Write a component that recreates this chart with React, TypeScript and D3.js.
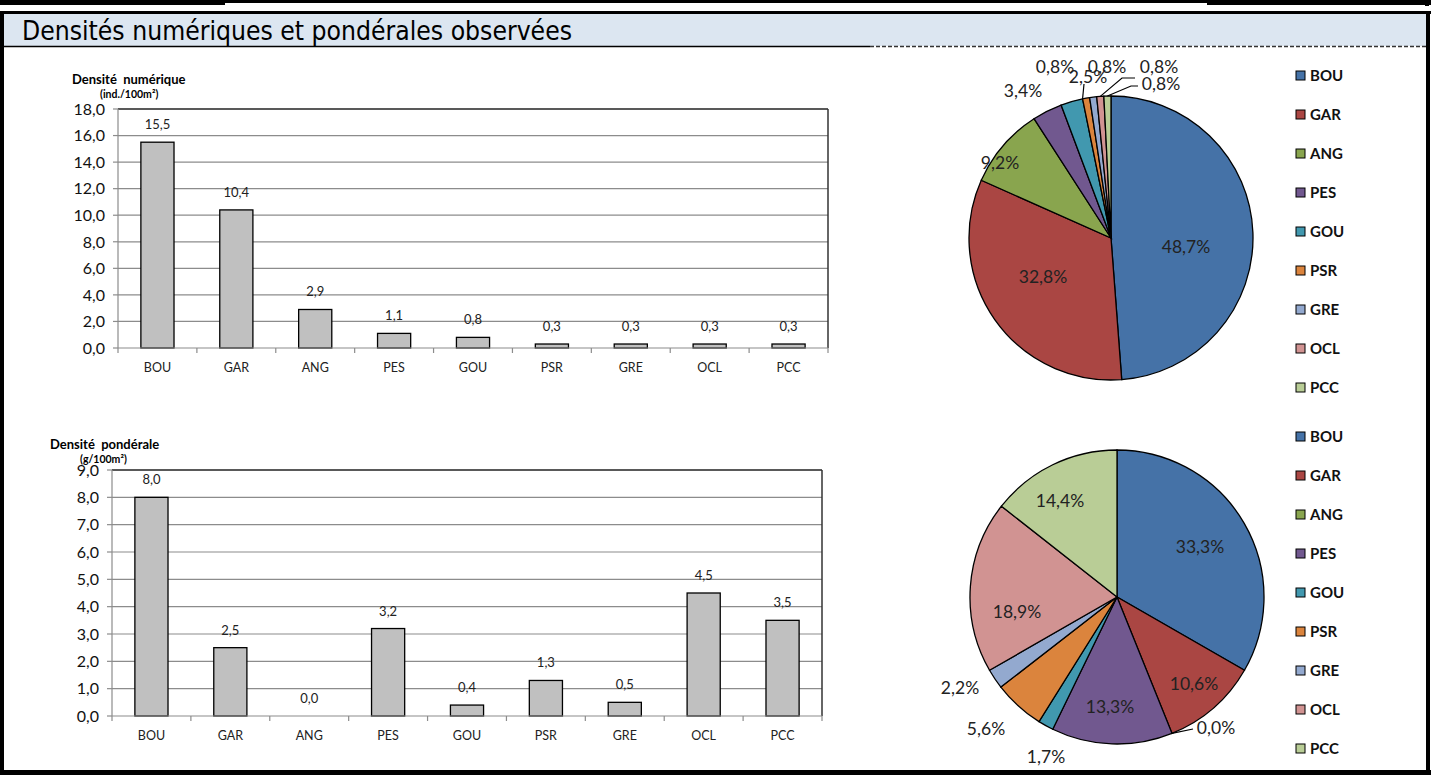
import React from 'react';
import * as d3 from 'd3';

// species codes
const categories = ['BOU', 'GAR', 'ANG', 'PES', 'GOU', 'PSR', 'GRE', 'OCL', 'PCC'];

// densité numérique (ind./100m²)
const densiteNum = [15.5, 10.4, 2.9, 1.1, 0.8, 0.3, 0.3, 0.3, 0.3];
// densité pondérale (g/100m²)
const densitePond = [8.0, 2.5, 0.0, 3.2, 0.4, 1.3, 0.5, 4.5, 3.5];

// percentages as printed on the pies
const pctNum = [48.7, 32.8, 9.2, 3.4, 2.5, 0.8, 0.8, 0.8, 0.8];
const pctPond = [33.3, 10.6, 0.0, 13.3, 1.7, 5.6, 2.2, 18.9, 14.4];

const yTicksNum = [0, 2, 4, 6, 8, 10, 12, 14, 16, 18];
const yTicksPond = [0, 1, 2, 3, 4, 5, 6, 7, 8, 9];

const sliceColors = ['#4572A7', '#AA4643', '#89A54E', '#71588F', '#4198AF', '#DB843D', '#93A9CF', '#D19392', '#B9CD96'];

const FONT = "Lato, 'Open Sans', sans-serif";
const fr = (v: number) => v.toFixed(1).replace('.', ',');

interface BarProps {
  values: number[];
  ticks: number[];
  x0: number;
  x1: number;
  yTop: number;
  yBot: number;
  title: string;
  unit: string;
  titleX: number;
  titleY: number;
  unitX: number;
}

const BarChart: React.FC<BarProps> = ({ values, ticks, x0, x1, yTop, yBot, title, unit, titleX, titleY, unitX }) => {
  const x = d3.scaleBand<string>().domain(categories).range([x0, x1]).paddingInner(0.58).paddingOuter(0.29);
  const y = d3.scaleLinear().domain([0, d3.max(ticks) as number]).range([yBot, yTop]);
  const step = (x1 - x0) / categories.length;
  const bounds = d3.range(categories.length + 1).map((i) => x0 + i * step);

  return (
    <g>
      <text x={titleX} y={titleY} fontFamily={FONT} fontWeight={700} fontSize={13} fill="#000">
        {title.split(' ')[0]}{'\u00a0 '}{title.split(' ')[1]}
      </text>
      <text x={unitX} y={titleY + 14} fontFamily={FONT} fontWeight={700} fontSize={10.5} fill="#000">
        {unit}
      </text>
      {/* grid lines */}
      {ticks.slice(1, -1).map((t) => (
        <line key={t} x1={x0} x2={x1} y1={y(t)} y2={y(t)} stroke="#8c8c8c" strokeWidth={1.2} />
      ))}
      {/* plot area border (top / right) */}
      <line x1={x0} x2={x1} y1={yTop} y2={yTop} stroke="#222" strokeWidth={1.5} />
      <line x1={x1} x2={x1} y1={yTop} y2={yBot} stroke="#333" strokeWidth={1.5} />
      {/* y axis */}
      <line x1={x0} x2={x0} y1={yTop} y2={yBot} stroke="#8c8c8c" strokeWidth={1.2} />
      {ticks.map((t) => (
        <g key={t}>
          <line x1={x0 - 5} x2={x0} y1={y(t)} y2={y(t)} stroke="#8c8c8c" strokeWidth={1.2} />
          <text x={x0 - 13} y={y(t)} dy="0.36em" textAnchor="end" fontFamily={FONT} fontSize={16} fill="#111">
            {fr(t)}
          </text>
        </g>
      ))}
      {/* bars */}
      {values.map((v, i) => (
        <g key={categories[i]}>
          {v > 0 && (
            <rect
              x={x(categories[i])}
              y={y(v)}
              width={x.bandwidth()}
              height={yBot - y(v)}
              fill="#C0C0C0"
              stroke="#000"
              strokeWidth={1.3}
            />
          )}
          <text
            x={(x(categories[i]) as number) + x.bandwidth() / 2}
            y={y(v) - 13}
            textAnchor="middle"
            fontFamily={FONT}
            fontSize={13}
            fill="#222"
          >
            {fr(v)}
          </text>
          <text
            x={(x(categories[i]) as number) + x.bandwidth() / 2}
            y={yBot + 24}
            textAnchor="middle"
            fontFamily={FONT}
            fontSize={12.5}
            fill="#222"
          >
            {categories[i]}
          </text>
        </g>
      ))}
      {/* x axis */}
      <line x1={x0} x2={x1} y1={yBot} y2={yBot} stroke="#8c8c8c" strokeWidth={1.2} />
      {bounds.map((b) => (
        <line key={b} x1={b} x2={b} y1={yBot} y2={yBot + 5} stroke="#8c8c8c" strokeWidth={1.2} />
      ))}
    </g>
  );
};

interface PieProps {
  values: number[];
  cx: number;
  cy: number;
  r: number;
  labelOffsets: [number, number][];
  leaders: { idx: number; at: 'mid' | 'end'; path: [number, number][] }[];
  legendY: number;
}

const PieChart: React.FC<PieProps> = ({ values, cx, cy, r, labelOffsets, leaders, legendY }) => {
  const pie = d3.pie<number>().sort(null).value((d) => d);
  const arcs = pie(values);
  const arc = d3.arc<d3.PieArcDatum<number>>().innerRadius(0).outerRadius(r);

  return (
    <g>
      <g transform={`translate(${cx},${cy})`}>
        {arcs.map((a, i) =>
          a.endAngle - a.startAngle > 0 ? (
            <path key={i} d={arc(a) as string} fill={sliceColors[i]} stroke="#000" strokeWidth={1.3} />
          ) : null
        )}
        {leaders.map((l, k) => {
          const a = arcs[l.idx];
          const ang = l.at === 'mid' ? (a.startAngle + a.endAngle) / 2 : a.endAngle;
          const p0 = d3.pointRadial(ang, r);
          const pts = [p0, ...l.path];
          return (
            <path
              key={k}
              d={d3.line()(pts as [number, number][]) as string}
              fill="none"
              stroke="#000"
              strokeWidth={1.2}
            />
          );
        })}
        {arcs.map((a, i) => (
          <text
            key={i}
            x={labelOffsets[i][0]}
            y={labelOffsets[i][1]}
            dy="0.35em"
            textAnchor="middle"
            fontFamily={FONT}
            fontSize={17.5}
            fill="#222"
          >
            {fr(values[i])}%
          </text>
        ))}
      </g>
      {/* legend */}
      {categories.map((c, i) => (
        <g key={c} transform={`translate(1296,${legendY + i * 39})`}>
          <rect x={0} y={-5} width={9} height={9} fill={sliceColors[i]} stroke="#000" strokeWidth={1} />
          <text x={14} y={0} dy="0.36em" fontFamily={FONT} fontWeight={700} fontSize={15} fill="#111">
            {c}
          </text>
        </g>
      ))}
    </g>
  );
};

export default function App() {
  return (
    <svg
      width={1431}
      height={776}
      style={{ position: 'absolute', left: 0, top: 0, background: '#fff' }}
    >
      {/* frame */}
      <rect x={0} y={0} width={1431} height={3} fill="#000" />
      <rect x={0} y={0} width={225} height={5} fill="#000" />
      <rect x={1207} y={0} width={224} height={5} fill="#000" />
      <rect x={1425} y={0} width={4} height={6} fill="#000" />
      <rect x={4} y={14} width={1422} height={32} fill="#DCE6F1" />
      <rect x={0} y={11} width={1431} height={3} fill="#000" />
      <rect x={0} y={11} width={4} height={764} fill="#000" />
      <rect x={1426} y={11} width={4} height={764} fill="#000" />
      <rect x={0} y={770} width={1431} height={5} fill="#000" />
      <line x1={4} x2={870} y1={46.5} y2={46.5} stroke="#000" strokeWidth={1.5} />
      <line x1={870} x2={1426} y1={46.5} y2={46.5} stroke="#333" strokeWidth={1.5} strokeDasharray="4,2" />
      <text
        x={22}
        y={40}
        fontFamily="'DejaVu Sans Condensed', 'Liberation Sans Narrow', Roboto, sans-serif"
        fontStretch="condensed"
        fontSize={27}
        textLength={550}
        lengthAdjust="spacingAndGlyphs"
        fill="#000"
      >
        Densités numériques et pondérales observées
      </text>

      <BarChart
        values={densiteNum}
        ticks={yTicksNum}
        x0={118}
        x1={828}
        yTop={109}
        yBot={348}
        title="Densité numérique"
        unit="(ind./100m²)"
        titleX={72}
        titleY={84}
        unitX={100}
      />
      <BarChart
        values={densitePond}
        ticks={yTicksPond}
        x0={112}
        x1={822}
        yTop={470}
        yBot={716}
        title="Densité pondérale"
        unit="(g/100m²)"
        titleX={50}
        titleY={449}
        unitX={80}
      />

      <PieChart
        values={pctNum}
        cx={1111}
        cy={238}
        r={142}
        labelOffsets={[
          [75, 9],
          [-68, 39],
          [-111, -75],
          [-88, -147],
          [-23, -161],
          [-56, -171],
          [-4, -171],
          [48, -171],
          [50, -154],
        ]}
        leaders={[
          { idx: 4, at: 'end', path: [[-27, -154]] },
          { idx: 7, at: 'mid', path: [[11, -160], [24, -160]] },
          { idx: 8, at: 'mid', path: [[20, -152], [27, -152]] },
        ]}
        legendY={76}
      />
      <PieChart
        values={pctPond}
        cx={1117}
        cy={597}
        r={147}
        labelOffsets={[
          [83, -50],
          [77, 87],
          [99, 131],
          [-7, 110],
          [-71, 160],
          [-131, 132],
          [-157, 91],
          [-100, 15],
          [-57, -96],
        ]}
        leaders={[{ idx: 2, at: 'mid', path: [[76, 132]] }]}
        legendY={437}
      />
    </svg>
  );
}
